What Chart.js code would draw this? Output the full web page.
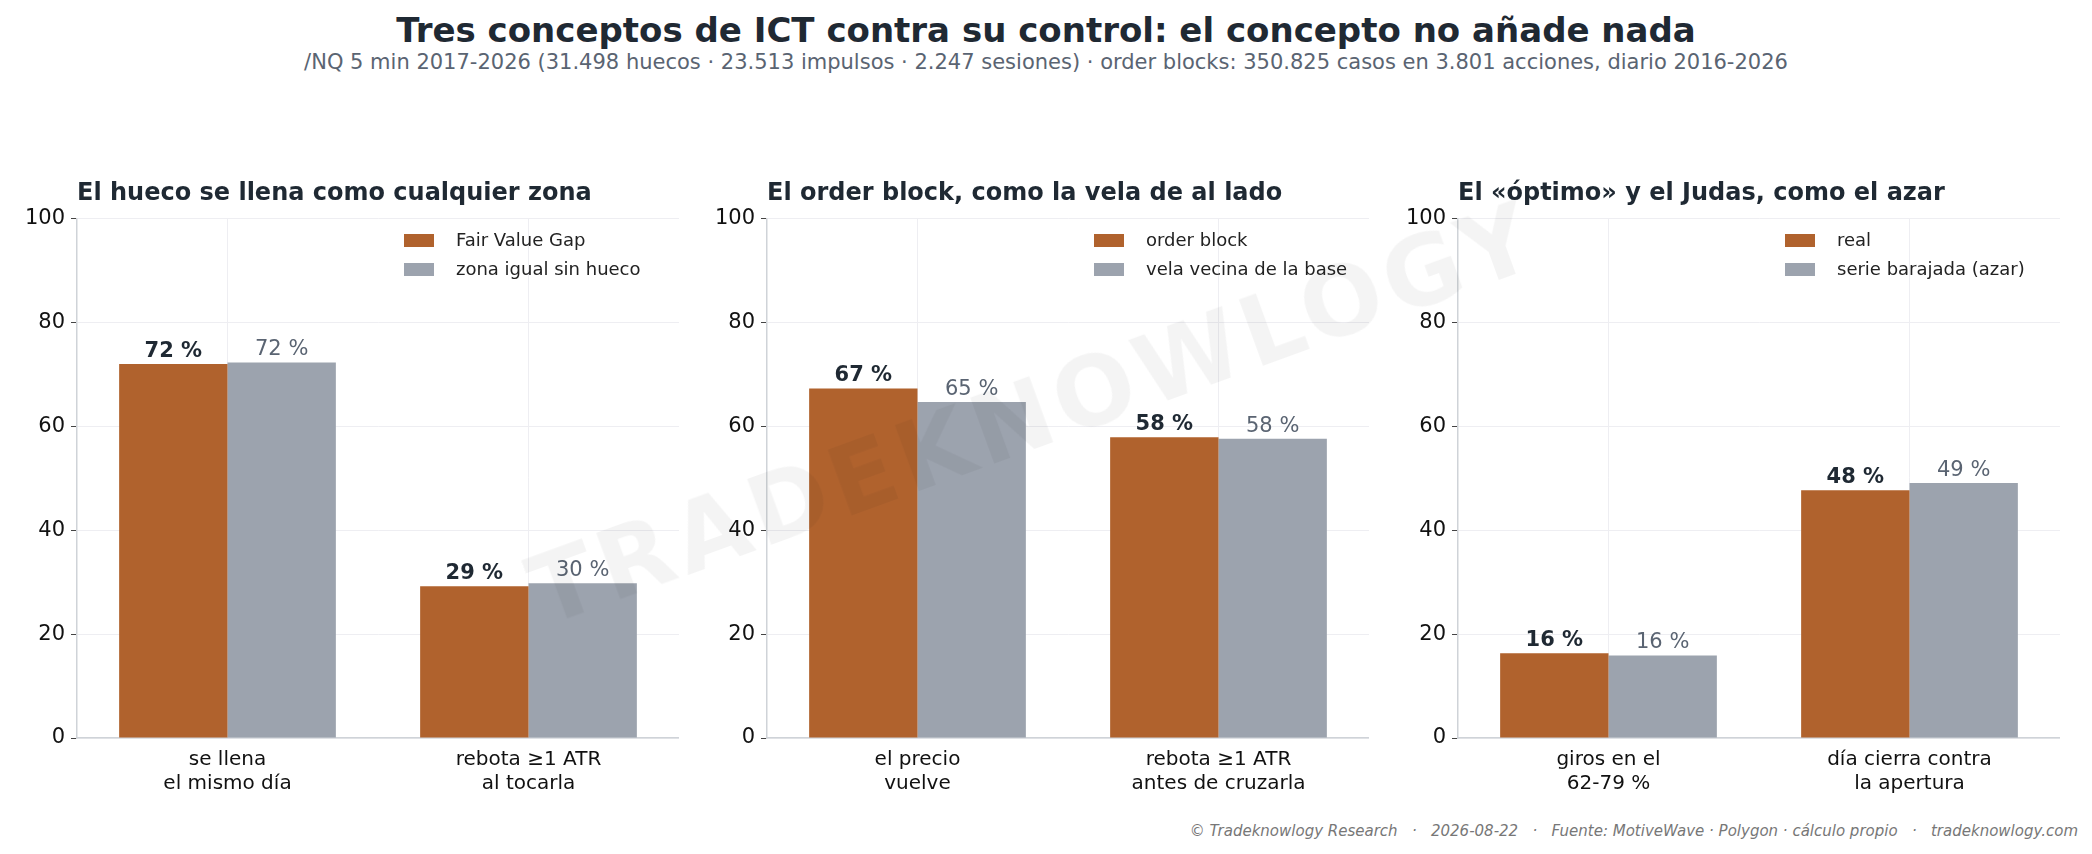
<!DOCTYPE html>
<html><head><meta charset="utf-8">
<script src="https://cdn.jsdelivr.net/npm/chart.js@4"></script>
<style>
body{margin:0;width:2092px;height:854px;background:#fff;position:relative;overflow:hidden;font-family:"DejaVu Sans",sans-serif}
.abs{position:absolute}
.ptitle{font-weight:bold;font-size:24px;color:#1f2933;white-space:nowrap}
.leg{font-size:18px;color:#222;line-height:29px}
.sw{display:inline-block;width:30px;height:13px;margin-right:22px;vertical-align:-1px}
</style></head><body>
<div class="abs" style="left:0;width:2092px;top:10px;text-align:center;font-weight:bold;font-size:34px;color:#1f2933">Tres conceptos de ICT contra su control: el concepto no añade nada</div>
<div class="abs" style="left:0;width:2092px;top:50px;text-align:center;font-size:21px;color:#5a6472">/NQ 5 min 2017-2026 (31.498 huecos · 23.513 impulsos · 2.247 sesiones) · order blocks: 350.825 casos en 3.801 acciones, diario 2016-2026</div>
<div id="wrap"></div>
<div class="abs" style="right:14px;top:822px;font-size:15px;font-style:italic;color:#777;white-space:pre">© Tradeknowlogy Research   ·   2026-08-22   ·   Fuente: MotiveWave · Polygon · cálculo propio   ·   tradeknowlogy.com</div>
<div class="abs" style="left:1034px;top:414px;transform:translate(-50%,-50%) rotate(-20deg);font-weight:bold;font-size:96px;letter-spacing:6px;color:rgba(0,0,0,0.045);white-space:nowrap;pointer-events:none">TRADEKNOWLOGY</div>
<script>
const titles=["El hueco se llena como cualquier zona","El order block, como la vela de al lado","El «óptimo» y el Judas, como el azar"];
const cats1=[["se llena","el mismo día"],["rebota ≥1 ATR","al tocarla"]];
const cats2=[["el precio","vuelve"],["rebota ≥1 ATR","antes de cruzarla"]];
const cats3=[["giros en el","62-79 %"],["día cierra contra","la apertura"]];
const names1=["Fair Value Gap","zona igual sin hueco"];
const names2=["order block","vela vecina de la base"];
const names3=["real","serie barajada (azar)"];
const main1=[72.0,29.2], ctrl1=[72.3,29.8];
const main2=[67.3,57.9], ctrl2=[64.7,57.6];
const main3=[16.3,47.7], ctrl3=[15.9,49.1];
const yTicks=[0,20,40,60,80,100];

const panels=[
 {cats:cats1,names:names1,a:main1,b:ctrl1,left:77},
 {cats:cats2,names:names2,a:main2,b:ctrl2,left:767},
 {cats:cats3,names:names3,a:main3,b:ctrl3,left:1458}];
const W=602, AXW=60, TOP=200, PADT=13, XH=72;
const ORANGE="#b0622d", GRAY="#9ca3ae";
const labelPlugin={id:'lbl',afterDatasetsDraw(c){const ctx=c.ctx;c.data.datasets.forEach((ds,i)=>{c.getDatasetMeta(i).data.forEach((el,j)=>{ctx.save();ctx.textAlign='center';ctx.textBaseline='bottom';ctx.font=(i===0?'bold ':'')+'21px "DejaVu Sans"';ctx.fillStyle=i===0?'#1f2933':'#5a6472';ctx.fillText(Math.round(ds.data[j])+' %',el.x,el.y-2);ctx.restore();});});}};
const wrap=document.getElementById('wrap');
panels.forEach((p,k)=>{
 const d=document.createElement('div');d.className='abs';
 d.style.cssText=`left:${p.left-AXW}px;top:${TOP}px;width:${W+AXW}px;height:${738-TOP+XH}px`;
 const cv=document.createElement('canvas');d.appendChild(cv);wrap.appendChild(d);
 const t=document.createElement('div');t.className='abs ptitle';t.style.left=p.left+'px';t.style.top='178px';t.textContent=p.names?titles[k]:'';wrap.appendChild(t);
 const lg=document.createElement('div');lg.className='abs leg';lg.style.left=(p.left+327)+'px';lg.style.top='225px';
 lg.innerHTML=`<div><span class="sw" style="background:${ORANGE}"></span>${p.names[0]}</div><div><span class="sw" style="background:${GRAY}"></span>${p.names[1]}</div>`;
 wrap.appendChild(lg);
 new Chart(cv,{type:'bar',data:{labels:p.cats,datasets:[
  {label:p.names[0],data:p.a,backgroundColor:ORANGE,categoryPercentage:0.72,barPercentage:1},
  {label:p.names[1],data:p.b,backgroundColor:GRAY,categoryPercentage:0.72,barPercentage:1}]},
  options:{responsive:true,maintainAspectRatio:false,animation:false,layout:{padding:{top:PADT,right:0,left:0,bottom:0}},
   plugins:{legend:{display:false},tooltip:{enabled:false},title:{display:false}},
   scales:{
    x:{grid:{offset:false,color:'#eeeef2',drawTicks:false},border:{color:'#cfd3d8',width:1.5},
       ticks:{color:'#111',font:{size:20,family:'"DejaVu Sans"'},padding:10},afterFit(s){s.height=XH;}},
    y:{min:0,max:100,afterBuildTicks(s){s.ticks=yTicks.map(v=>({value:v}));},grid:{color:'#eeeef2',tickLength:6,tickColor:'#444'},border:{color:'#cfd3d8',width:1.5},
       ticks:{color:'#111',font:{size:21,family:'"DejaVu Sans"'},padding:6},afterFit(s){s.width=AXW;}}}},
  plugins:[labelPlugin]});
});
</script>
</body></html>
